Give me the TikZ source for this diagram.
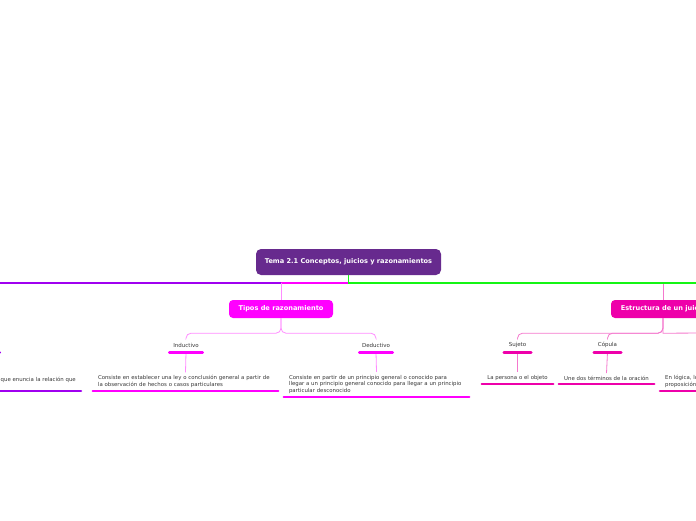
\documentclass[tikz,border=0pt]{standalone}
\usepackage{fontspec}
\setmainfont{DejaVu Sans}
\usepackage{tikz}
\usetikzlibrary{positioning, calc}
\definecolor{cRoot}{RGB}{103,42,142}
\definecolor{cMag}{RGB}{255,0,255}
\definecolor{cMagLt}{RGB}{255,140,255}
\definecolor{cPink}{RGB}{238,0,170}
\definecolor{cPinkLt}{RGB}{244,120,205}
\definecolor{cViolet}{RGB}{160,0,240}
\definecolor{cGreen}{RGB}{20,245,20}
\definecolor{cText}{RGB}{55,55,55}
\tikzset{
	topic/.style ={rectangle, rounded corners=4pt, minimum height=18pt, inner sep=0pt, text=white, font=\fontsize{6.6}{7}\selectfont\bfseries},
	sub/.style   ={minimum height=14pt, inner sep=0pt, text=cText, font=\fontsize{5.5}{6}\selectfont},
	note/.style  ={inner xsep=5pt, inner ysep=3pt, text=cText, font=\fontsize{5.4}{6.8}\selectfont},
	branch/.style={line width=1.4pt},
	lnk/.style   ={line width=0.8pt},
	bar/.style   ={line width=2.6pt, line cap=round},
}
\begin{document}
\begin{tikzpicture}[x=1pt, y=-1pt]
	\useasboundingbox (0,0) rectangle (696,520);
	\clip (0,0) rectangle (696,520);
	% main topics
	\node[topic, fill=cRoot, minimum width=185pt, minimum height=26pt, rounded corners=5pt] (root) at (348.5,262) {Tema 2.1 Conceptos, juicios y razonamientos};
	\node[topic, fill=cMag, minimum width=104pt] (tipos) at (281,309) {Tipos de razonamiento};
	\node[topic, fill=cPink, minimum width=104pt] (estr) at (663,309) {Estructura de un juicio};
	% subtopics
	\node[sub, minimum width=33pt] (jui) at (-17,345) {};
	\node[sub, minimum width=33pt] (ind) at (186,345) {Inductivo};
	\node[sub, minimum width=33pt] (ded) at (376,345) {Deductivo};
	\node[sub, minimum width=27pt] (suj) at (517.5,345) {Sujeto};
	\node[sub, minimum width=27pt] (cop) at (607.5,345) {Cópula};
	% notes
	\node[note, anchor=south east, text width=150pt, align=right] (juitxt) at (81,391) {que enuncia la relación que\\ \mbox{}};
	\node[note, anchor=south, text width=175pt, align=left] (indtxt) at (185.5,391) {Consiste en establecer una ley o conclusión general a partir de\\ la observación de hechos o casos particulares};
	\node[note, anchor=south, text width=175pt, align=left] (dedtxt) at (376.5,397) {Consiste en partir de un principio general o conocido para\\ llegar a un principio general conocido para llegar a un principio\\ particular desconocido};
	\node[note, anchor=south, text width=61pt, align=center] (sujtxt) at (517.5,384) {La persona o el objeto};
	\node[note, anchor=south, text width=85pt, align=center] (coptxt) at (606.5,384) {Une dos términos de la oración};
	\node[note, anchor=south west, text width=150pt, align=left] (predtxt) at (660,391) {En lógica, lo que\\ proposición};
	% branches from the root
	\coordinate (hub) at (348.5,283);
	\coordinate (offL) at (-10,283);
	\coordinate (offR) at (710,283);
	\coordinate (estrR) at (710,333);
	\draw[branch, cViolet] (root.south) -- (hub) -- (offL);
	\draw[branch, cMag] (hub) -- (hub -| tipos.north);
	\draw[lnk, cMagLt] (hub -| tipos.north) -- (tipos.north);
	\draw[lnk, cPinkLt] (hub -| estr.north) -- (estr.north);
	\draw[branch, cGreen] (root.south) -- (hub) -- (offR);
	% tipos de razonamiento
	\draw[lnk, cMagLt, rounded corners=5pt] (tipos.south) -- ++(0,15) -| (ind.north);
	\draw[lnk, cMagLt, rounded corners=5pt] (tipos.south) -- ++(0,15) -| (ded.north);
	\draw[lnk, cMagLt] (ind.south) -- (indtxt.north);
	\draw[lnk, cMagLt] (ded.south) -- (dedtxt.north);
	% estructura de un juicio
	\draw[lnk, cPinkLt, rounded corners=5pt] (estr.south) -- ++(0,15) -| (suj.north);
	\draw[lnk, cPinkLt, rounded corners=5pt] (estr.south) -- ++(0,15) -| (cop.north);
	\draw[lnk, cPinkLt] (estr.south) -- ++(0,15) -- (estrR);
	\draw[lnk, cPinkLt] (suj.south) -- (sujtxt.north);
	\draw[lnk, cPinkLt] (cop.south) -- (coptxt.north);
	% underline bars
	\foreach \n in {jui, juitxt} \draw[bar, cViolet] (\n.south west) -- (\n.south east);
	\foreach \n in {ind, ded, indtxt, dedtxt} \draw[bar, cMag] (\n.south west) -- (\n.south east);
	\foreach \n in {suj, cop, sujtxt, coptxt, predtxt} \draw[bar, cPink] (\n.south west) -- (\n.south east);
\end{tikzpicture}
\end{document}
